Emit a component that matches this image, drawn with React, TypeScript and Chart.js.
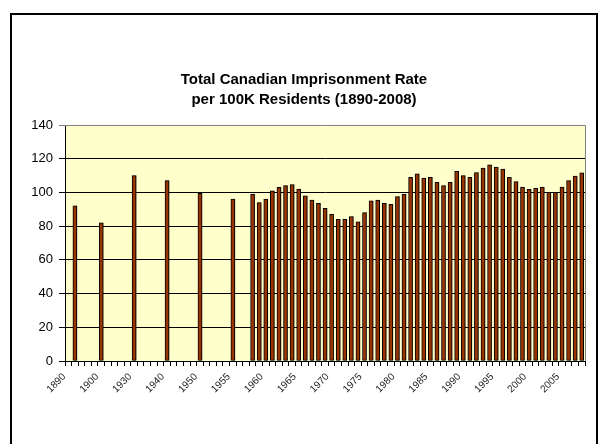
import React, { useEffect, useRef } from "react";
import { Chart, registerables } from "chart.js";

Chart.register(...registerables);

const titleLines = ["Total Canadian Imprisonment Rate", "per 100K Residents (1890-2008)"];

// 79 category slots on the axis (labels shown every 5th slot)
const categories = [
  "1890", "", "", "", "", "1900", "", "", "", "",
  "1930", "", "", "", "", "1940", "", "", "", "",
  "1950", "", "", "", "", "1955", "", "", "1958", "1959",
  "1960", "1961", "1962", "1963", "1964", "1965", "1966", "1967", "1968", "1969",
  "1970", "1971", "1972", "1973", "1974", "1975", "1976", "1977", "1978", "1979",
  "1980", "1981", "1982", "1983", "1984", "1985", "1986", "1987", "1988", "1989",
  "1990", "1991", "1992", "1993", "1994", "1995", "1996", "1997", "1998", "1999",
  "2000", "2001", "2002", "2003", "2004", "2005", "2006", "2007", "2008",
];

const rates = [
  null, 92, null, null, null, 82, null, null, null, null,
  110, null, null, null, null, 107, null, null, null, null,
  99.5, null, null, null, null, 96, null, null, 99, 94,
  96, 101, 103, 104, 104.7, 102, 98, 95.4, 93.6, 90.5,
  87, 84, 84, 85.7, 82.5, 88, 95, 95.5, 93.6, 93,
  97.5, 99, 109, 111, 108.5, 109, 106, 104, 106, 112.5,
  110, 109, 111.8, 114.4, 116.3, 115, 113.8, 109, 106.5, 103.2,
  101.8, 102.4, 103.2, 100, 100, 103.2, 107, 109.7, 111.7,
];

const yMin = 0;
const yMax = 140;
const yStep = 20;

const FONT = "'Liberation Sans', Arial, sans-serif";

export default function App() {
  const ref = useRef<HTMLCanvasElement | null>(null);

  useEffect(() => {
    const canvas = ref.current;
    if (!canvas) return;

    const framePlugin = {
      id: "frameAndTitle",
      beforeDraw(chart: any) {
        const ctx = chart.ctx;
        const a = chart.chartArea;
        ctx.save();
        ctx.fillStyle = "#ffffff";
        ctx.fillRect(0, 0, chart.width, chart.height);
        ctx.fillStyle = "#FFFFCC";
        ctx.fillRect(a.left, a.top, a.right - a.left, a.bottom - a.top);
        ctx.restore();
      },
      afterDraw(chart: any) {
        const ctx = chart.ctx;
        const a = chart.chartArea;
        ctx.save();
        ctx.strokeStyle = "#808080";
        ctx.lineWidth = 1;
        ctx.beginPath();
        ctx.moveTo(a.left, Math.round(a.top) + 0.5);
        ctx.lineTo(Math.round(a.right) + 0.5, Math.round(a.top) + 0.5);
        ctx.lineTo(Math.round(a.right) + 0.5, a.bottom);
        ctx.stroke();
        ctx.strokeStyle = "#000000";
        ctx.lineWidth = 2;
        ctx.beginPath();
        ctx.moveTo(11, chart.height + 5);
        ctx.lineTo(11, 14);
        ctx.lineTo(597, 14);
        ctx.lineTo(597, chart.height + 5);
        ctx.stroke();
        ctx.fillStyle = "#000000";
        ctx.font = `bold 15px ${FONT}`;
        ctx.textAlign = "center";
        ctx.textBaseline = "middle";
        const cx = (11 + 597) / 2;
        ctx.fillText(titleLines[0], cx, 80);
        ctx.fillText(titleLines[1], cx, 100);
        ctx.restore();
      },
    };

    const shadowPlugin = {
      id: "barShadow",
      beforeDatasetsDraw(chart: any) {
        const ctx = chart.ctx;
        ctx.save();
        ctx.shadowColor = "rgba(0,0,0,0.35)";
        ctx.shadowOffsetX = 1.5;
        ctx.shadowOffsetY = 0;
        ctx.shadowBlur = 0;
      },
      afterDatasetsDraw(chart: any) {
        chart.ctx.restore();
      },
    };

    const chart = new Chart(canvas, {
      type: "bar",
      data: {
        labels: categories,
        datasets: [
          {
            data: rates as any,
            backgroundColor: "#993300",
            borderColor: "#000000",
            borderWidth: 1,
            barThickness: 4,
            borderSkipped: false,
          },
        ],
      },
      options: {
        animation: false,
        responsive: false,
        maintainAspectRatio: false,
        devicePixelRatio: 1,
        layout: { padding: { left: 0, right: 15, top: 125, bottom: 0 } },
        plugins: {
          legend: { display: false },
          title: { display: false },
          tooltip: { enabled: false },
        },
        scales: {
          x: {
            offset: true,
            grid: {
              display: true,
              offset: true,
              drawOnChartArea: false,
              drawTicks: true,
              tickLength: 5,
              color: "#000000",
            },
            border: { display: true, color: "#000000", width: 1 },
            ticks: {
              autoSkip: false,
              maxRotation: 45,
              minRotation: 45,
              padding: 5,
              labelOffset: -4,
              color: "#222222",
              font: { family: FONT, size: 10 },
              callback: (_v: any, i: number) => (i % 5 === 0 ? categories[i] : ""),
            },
            afterFit: (scale: any) => {
              scale.height = 444 - 361;
            },
          },
          y: {
            min: yMin,
            max: yMax,
            grid: {
              color: (c: any) => (c.tick && c.tick.value === yMax ? "#808080" : "#000000"),
              lineWidth: 1,
              drawTicks: true,
              tickLength: 6,
            },
            border: { display: true, color: "#000000", width: 1 },
            ticks: {
              stepSize: yStep,
              padding: 6,
              color: "#000000",
              font: { family: FONT, size: 13 },
            },
            afterFit: (scale: any) => {
              scale.width = 65;
            },
          },
        },
      },
      plugins: [framePlugin, shadowPlugin],
    });

    return () => chart.destroy();
  }, []);

  return (
    <div style={{ position: "absolute", left: 0, top: 0, width: 600, height: 444, background: "#fff" }}>
      <canvas ref={ref} width={600} height={444} style={{ width: 600, height: 444, display: "block" }} />
    </div>
  );
}
